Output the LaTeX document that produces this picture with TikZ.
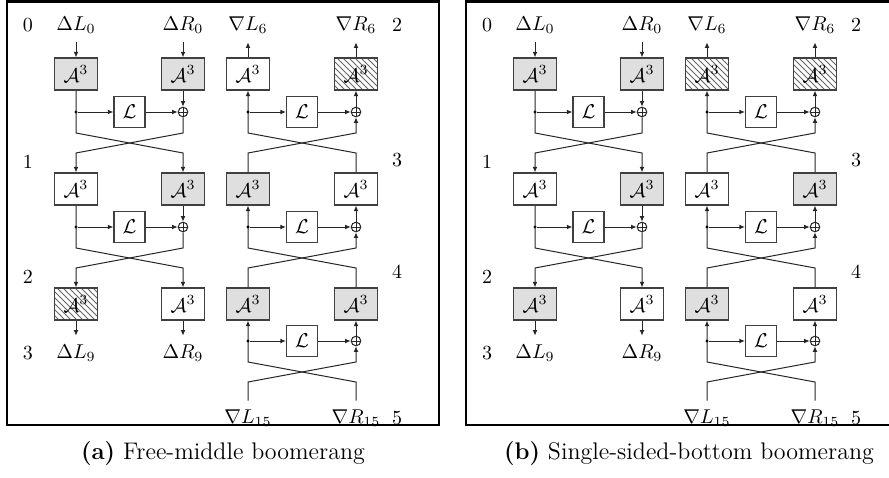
\documentclass[tikz,border=0pt]{standalone}
\usetikzlibrary{arrows.meta,patterns}
\tikzset{
  ln/.style={line width=0.5pt, draw=black!85},
  arr/.style={ln, -{Latex[length=2.8pt,width=2.4pt]}},
  abox/.style={draw=black!75, line width=0.55pt, minimum width=21.5pt, minimum height=16pt, inner sep=0pt},
  lbox/.style={draw=black!75, line width=0.55pt, minimum width=15.5pt, minimum height=15.5pt, inner sep=0pt, fill=white},
  gbox/.style={fill=gray!25},
  wbox/.style={fill=white},
  hbox/.style={pattern=north west lines, pattern color=black!60},
  xorn/.style={circle, draw=black!85, line width=0.5pt, minimum size=4.8pt, inner sep=0pt, fill=white,
    path picture={\draw[line width=0.5pt] (path picture bounding box.north) -- (path picture bounding box.south)
      (path picture bounding box.west) -- (path picture bounding box.east);}},
  dotn/.style={circle, fill=black, minimum size=1.7pt, inner sep=0pt},
  lab/.style={inner xsep=0pt, inner ysep=4.3pt},
  num/.style={inner sep=0pt},
  panelframe/.style={line width=1.4pt},
  captext/.style={font=\fontsize{12}{14}\selectfont},
}
% left half: information flows downwards
\newcommand{\halfdown}[9]{%
  \node[lab] (#1t1) at (#2,25) {$\Delta L_0$};
  \node[lab] (#1t2) at (#3,25) {$\Delta R_0$};
  \node[num] (#1n0) at (#2-48,25) {0};
  \node[num] (#1n1) at (#2-48,162) {1};
  \node[num] (#1n2) at (#2-48,277) {2};
  \node[num] (#1n3) at (#2-48,353) {3};
  \node[abox,#4] (#1a1) at (#2,74) {$\mathcal{A}^3$};
  \node[abox,#5] (#1b1) at (#3,74) {$\mathcal{A}^3$};
  \node[abox,#6] (#1a2) at (#2,189) {$\mathcal{A}^3$};
  \node[abox,#7] (#1b2) at (#3,189) {$\mathcal{A}^3$};
  \node[abox,#8] (#1a3) at (#2,304) {$\mathcal{A}^3$};
  \node[abox,#9] (#1b3) at (#3,304) {$\mathcal{A}^3$};
  \node[lab] (#1a4) at (#2,353) {$\Delta L_9$};
  \node[lab] (#1b4) at (#3,353) {$\Delta R_9$};
  \draw[arr] (#1t1) -- (#1a1);
  \draw[arr] (#1t2) -- (#1b1);
  \draw[arr] (#1a3) -- (#1a4);
  \draw[arr] (#1b3) -- (#1b4);
  \foreach \rr/\nn/\yy in {1/2/0,2/3/115}{
    \node[lbox] (#1l\rr) at ({(#2+#3)/2},112+\yy) {$\mathcal{L}$};
    \node[xorn] (#1x\rr) at (#3,112+\yy) {};
    \node[dotn] (#1d\rr) at (#2,112+\yy) {};
    \coordinate (#1p\rr) at (#2,133+\yy);
    \coordinate (#1q\rr) at (#3,133+\yy);
    \coordinate (#1s\rr) at (#2,153+\yy);
    \coordinate (#1u\rr) at (#3,153+\yy);
    \draw[arr] (#1a\rr) -- (#1p\rr) -- (#1u\rr) -- (#1b\nn);
    \draw[arr] (#1x\rr) -- (#1q\rr) -- (#1s\rr) -- (#1a\nn);
    \draw[arr] (#1d\rr) -- (#1l\rr);
    \draw[arr] (#1l\rr) -- (#1x\rr);
    \draw[arr] (#1b\rr) -- (#1x\rr);
  }
}
% right half: information flows upwards
\newcommand{\halfup}[9]{%
  \node[lab] (#1t1) at (#2,25) {$\nabla L_6$};
  \node[lab] (#1t2) at (#3,25) {$\nabla R_6$};
  \node[num] (#1n2) at (#3+41,25) {2};
  \node[num] (#1n3) at (#3+41,160) {3};
  \node[num] (#1n4) at (#3+41,272) {4};
  \node[num] (#1n5) at (#3+41,418) {5};
  \node[abox,#4] (#1a1) at (#2,74) {$\mathcal{A}^3$};
  \node[abox,#5] (#1b1) at (#3,74) {$\mathcal{A}^3$};
  \node[abox,#6] (#1a2) at (#2,189) {$\mathcal{A}^3$};
  \node[abox,#7] (#1b2) at (#3,189) {$\mathcal{A}^3$};
  \node[abox,#8] (#1a3) at (#2,304) {$\mathcal{A}^3$};
  \node[abox,#9] (#1b3) at (#3,304) {$\mathcal{A}^3$};
  \node[lab] (#1a4) at (#2,418) {$\nabla L_{15}$};
  \node[lab] (#1b4) at (#3,418) {$\nabla R_{15}$};
  \draw[arr] (#1a1) -- (#1t1);
  \draw[arr] (#1b1) -- (#1t2);
  \foreach \rr/\nn/\yy in {1/2/0,2/3/115,3/4/229}{
    \node[lbox] (#1l\rr) at ({(#2+#3)/2},112+\yy) {$\mathcal{L}$};
    \node[xorn] (#1x\rr) at (#3,112+\yy) {};
    \coordinate (#1p\rr) at (#2,133+\yy);
    \coordinate (#1q\rr) at (#3,133+\yy);
    \coordinate (#1s\rr) at (#2,153+\yy);
    \coordinate (#1u\rr) at (#3,153+\yy);
    \draw[arr] (#1a\nn) -- (#1s\rr) -- (#1q\rr) -- (#1x\rr);
    \draw[arr] (#1b\nn) -- (#1u\rr) -- (#1p\rr) -- (#1a\rr);
    \node[dotn] (#1d\rr) at (#2,112+\yy) {};
    \draw[arr] (#1d\rr) -- (#1l\rr);
    \draw[arr] (#1l\rr) -- (#1x\rr);
    \draw[arr] (#1x\rr) -- (#1b\rr);
  }
}
\begin{document}
\begin{tikzpicture}[x=0.5pt,y=-0.5pt]
  \useasboundingbox (0,0) rectangle (889,477);
  \clip (0,0) rectangle (889,477);
  % panel (a)
  \draw[panelframe] (7,1.5) rectangle (439,425);
  \halfdown{A}{76}{183}{gbox}{gbox}{wbox}{gbox}{hbox}{wbox}
  \halfup{D}{248}{356}{wbox}{hbox}{gbox}{wbox}{gbox}{gbox}
  \node[captext] (capa) at (223,454) {\textbf{(a)} Free-middle boomerang};
  % panel (b)
  \draw[panelframe] (466,1.5) rectangle (898,425);
  \halfdown{B}{535}{642}{gbox}{gbox}{wbox}{gbox}{gbox}{wbox}
  \halfup{C}{707}{815}{hbox}{hbox}{wbox}{gbox}{gbox}{wbox}
  \node[captext] (capb) at (689,454) {\textbf{(b)} Single-sided-bottom boomerang};
\end{tikzpicture}
\end{document}
